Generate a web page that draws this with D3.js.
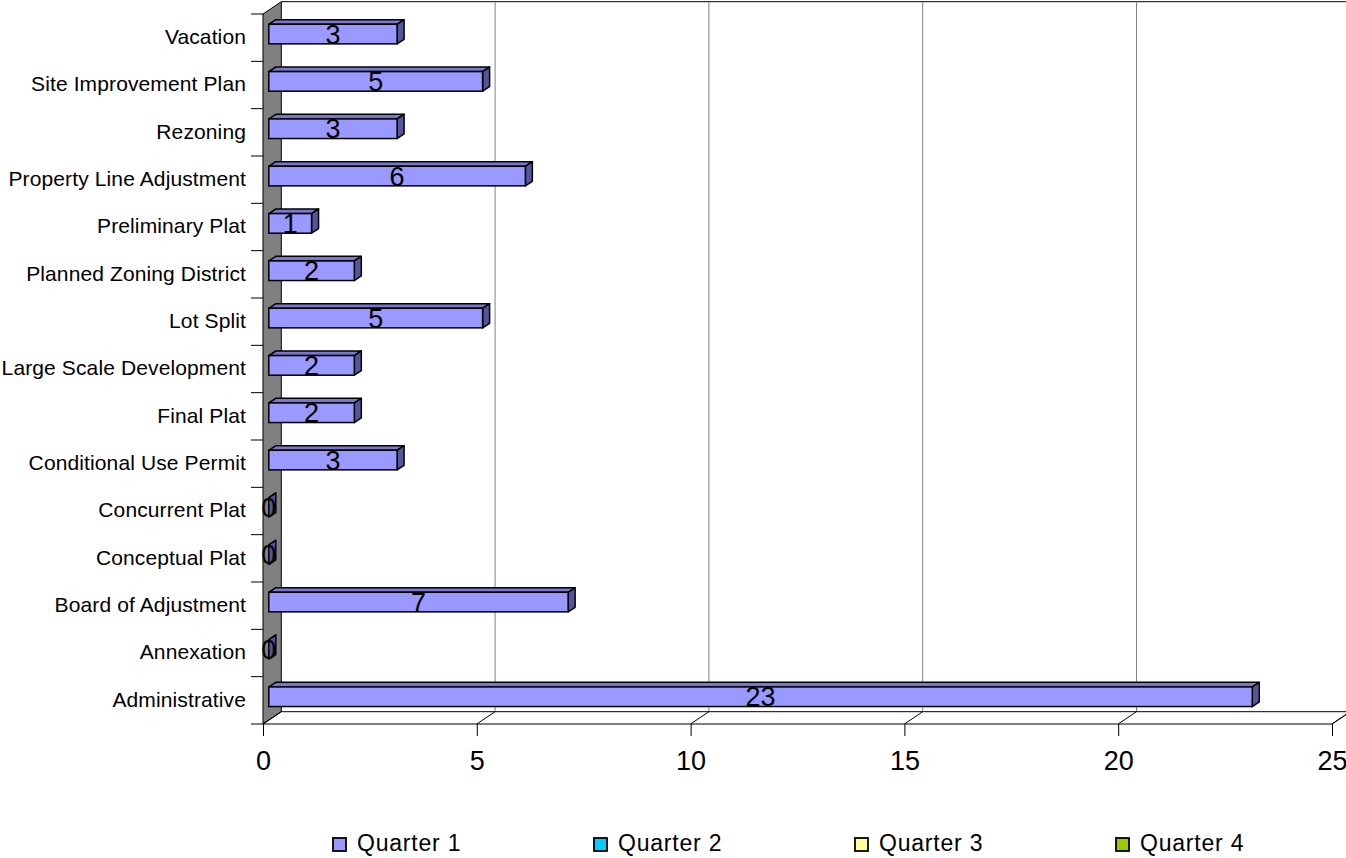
<!DOCTYPE html>
<html><head><meta charset="utf-8">
<script src="https://cdn.jsdelivr.net/npm/d3@7"></script>
<style>html,body{margin:0;padding:0;background:#fff;}svg{display:block;font-family:"Liberation Sans",Arial,sans-serif;}</style>
</head><body>
<svg id="c" width="1346" height="858"></svg>
<script>
const categories = ["Vacation","Site Improvement Plan","Rezoning","Property Line Adjustment","Preliminary Plat","Planned Zoning District","Lot Split","Large Scale Development","Final Plat","Conditional Use Permit","Concurrent Plat","Conceptual Plat","Board of Adjustment","Annexation","Administrative"];
const quarter1 = [3,5,3,6,1,2,5,2,2,3,0,0,7,0,23];
const xTicks = [0,5,10,15,20,25];
const seriesNames = ["Quarter 1","Quarter 2","Quarter 3","Quarter 4"];
const seriesColors = ["#9999FF","#00CCFF","#FFFF99","#99CC00"];

const svg = d3.select("#c");
const DX = 18.3, DY = -12.3;          // wall depth
const x = d3.scaleLinear().domain([0,25]).range([263,1332]);
const y = d3.scaleBand().domain(categories).range([14,724]).paddingInner(0).paddingOuter(0);
const floorY = 724;
const topY = 14;

// back wall top border and gridlines
svg.append("line").attr("x1",263+DX).attr("x2",1346).attr("y1",topY+DY).attr("y2",topY+DY).attr("stroke","#000");
xTicks.forEach(t=>{
  if(t===0) return;
  svg.append("line").attr("x1",x(t)+DX).attr("x2",x(t)+DX).attr("y1",topY+DY).attr("y2",floorY+DY).attr("stroke","#808080");
});
// side wall
svg.append("polygon").attr("points",[[263,topY],[263+DX,topY+DY],[263+DX,floorY+DY],[263,floorY]].map(p=>p.join(",")).join(" "))
  .attr("fill","#808080").attr("stroke","#000");
// floor
svg.append("polygon").attr("points",[[263,floorY],[x(25),floorY],[x(25)+DX,floorY+DY],[263+DX,floorY+DY]].map(p=>p.join(",")).join(" "))
  .attr("fill","#fff").attr("stroke","#000");
xTicks.forEach(t=>{
  svg.append("line").attr("x1",x(t)).attr("x2",x(t)+DX).attr("y1",floorY).attr("y2",floorY+DY).attr("stroke","#000");
});

// x axis
const xa = svg.append("g").attr("transform",`translate(0,${floorY})`)
  .call(d3.axisBottom(x).tickValues(xTicks).tickSize(12).tickPadding(15).tickFormat(d3.format("d")));
xa.select(".domain").remove();
xa.selectAll("line").attr("stroke","#000");
xa.selectAll("text").attr("font-size",27).attr("font-family","'Liberation Sans',Arial,sans-serif").attr("fill","#000");

// category axis
const ya = svg.append("g").attr("transform","translate(263,0)")
  .call(d3.axisLeft(y).tickSize(0).tickPadding(17));
ya.select(".domain").remove();
ya.selectAll("text").attr("font-size",21).attr("letter-spacing","0.12px").attr("dy","0.3em")
  .attr("font-family","'Liberation Sans',Arial,sans-serif").attr("fill","#000");
// boundary ticks
const bounds = categories.map(c=>y(c)).concat([y.range()[1]]);
svg.append("g").selectAll("line").data(bounds).join("line")
  .attr("x1",251).attr("x2",263).attr("y1",d=>d).attr("y2",d=>d).attr("stroke","#000");

// bars
const bx = 5.8, by = -3.6, bdx = 7, bdy = -4.6, bh = 19.6;
const bars = svg.append("g");
categories.forEach((c,i)=>{
  const v = quarter1[i];
  const x0 = x(0)+bx, x1 = x(v)+bx;
  const yc = y(c)+y.bandwidth()/2 + by;
  const y0 = yc - bh/2, y1 = yc + bh/2;
  const g = bars.append("g");
  const pts = a=>a.map(p=>p.join(",")).join(" ");
  g.append("polygon").attr("points",pts([[x0,y0],[x1,y0],[x1+bdx,y0+bdy],[x0+bdx,y0+bdy]]))
    .attr("fill","#7878cc").attr("stroke","#000").attr("stroke-width",1.5).attr("stroke-linejoin","round");
  g.append("polygon").attr("points",pts([[x1,y0],[x1+bdx,y0+bdy],[x1+bdx,y1+bdy],[x1,y1]]))
    .attr("fill","#55559a").attr("stroke","#000").attr("stroke-width",1.5).attr("stroke-linejoin","round");
  g.append("rect").attr("x",x0).attr("y",y0).attr("width",x1-x0).attr("height",bh)
    .attr("fill","#9999FF").attr("stroke","#000").attr("stroke-width",1.5);
  g.append("text").attr("x",(x0+x1)/2).attr("y",yc).attr("dy","0.36em").attr("text-anchor","middle")
    .attr("font-size",27).attr("fill","#000").text(v);
});

// legend
const lg = svg.append("g");
seriesNames.forEach((s,i)=>{
  const lx = 333 + i*261;
  lg.append("rect").attr("x",lx).attr("y",838).attr("width",13).attr("height",13)
    .attr("fill",seriesColors[i]).attr("stroke","#000").attr("stroke-width",1.8);
  lg.append("text").attr("x",lx+24).attr("y",851).attr("font-size",23).attr("letter-spacing","0.8px").attr("fill","#000").text(s);
});
</script>
</body></html>
